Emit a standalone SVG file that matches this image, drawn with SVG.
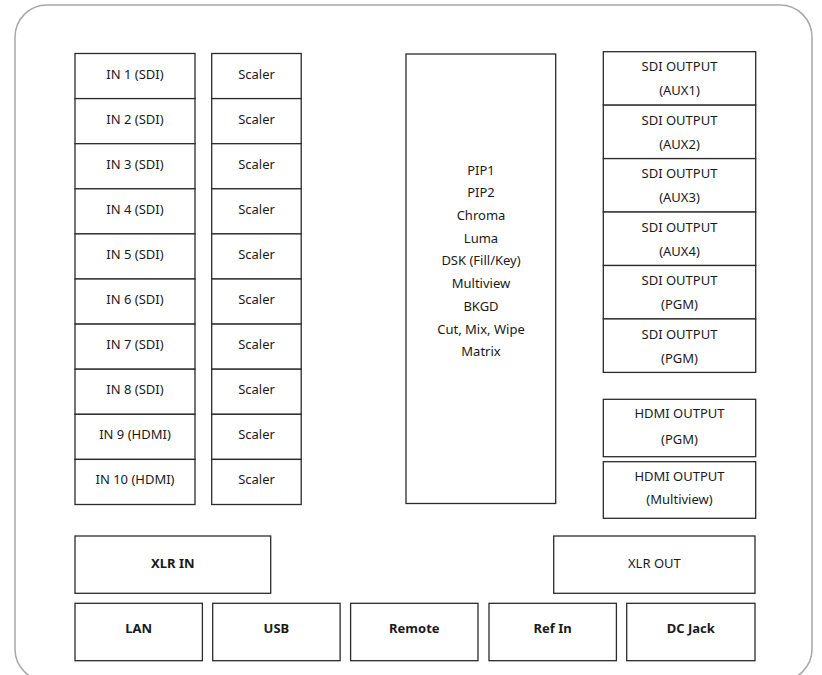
<svg xmlns="http://www.w3.org/2000/svg" width="822" height="675" viewBox="0 0 822 675">
<style>
.frame{fill:#fff;stroke:#a8a8a8;stroke-width:1.5}
.box{fill:#fff;stroke:#2b2b2b;stroke-width:1.3}
.t{font-family:"Noto Sans","Open Sans",sans-serif;font-size:13px;fill:#1a1a1a;text-anchor:middle}
.b{font-weight:bold}
</style>
<rect class="frame" x="15" y="5" width="797" height="676" rx="32" ry="32"/>
<g id="inputs">
<g id="in1"><rect class="box" x="75" y="53.5" width="120" height="45.1"/><text class="t" x="135" y="78.5">IN 1 (SDI)</text></g>
<g id="in2"><rect class="box" x="75" y="98.6" width="120" height="45.1"/><text class="t" x="135" y="123.6">IN 2  (SDI)</text></g>
<g id="in3"><rect class="box" x="75" y="143.7" width="120" height="45.1"/><text class="t" x="135" y="168.7">IN 3 (SDI)</text></g>
<g id="in4"><rect class="box" x="75" y="188.8" width="120" height="45.1"/><text class="t" x="135" y="213.8">IN 4 (SDI)</text></g>
<g id="in5"><rect class="box" x="75" y="233.9" width="120" height="45.1"/><text class="t" x="135" y="258.9">IN 5 (SDI)</text></g>
<g id="in6"><rect class="box" x="75" y="279" width="120" height="45.1"/><text class="t" x="135" y="304">IN 6 (SDI)</text></g>
<g id="in7"><rect class="box" x="75" y="324.1" width="120" height="45.1"/><text class="t" x="135" y="349.1">IN 7 (SDI)</text></g>
<g id="in8"><rect class="box" x="75" y="369.2" width="120" height="45.1"/><text class="t" x="135" y="394.2">IN 8 (SDI)</text></g>
<g id="in9"><rect class="box" x="75" y="414.3" width="120" height="45.1"/><text class="t" x="135" y="439.3">IN 9 (HDMI)</text></g>
<g id="in10"><rect class="box" x="75" y="459.4" width="120" height="45.1"/><text class="t" x="135" y="484.4">IN 10 (HDMI)</text></g>
</g>
<g id="scalers">
<g id="sc1"><rect class="box" x="211.7" y="53.5" width="89.5" height="45.1"/><text class="t" x="256.5" y="78.5">Scaler</text></g>
<g id="sc2"><rect class="box" x="211.7" y="98.6" width="89.5" height="45.1"/><text class="t" x="256.5" y="123.6">Scaler</text></g>
<g id="sc3"><rect class="box" x="211.7" y="143.7" width="89.5" height="45.1"/><text class="t" x="256.5" y="168.7">Scaler</text></g>
<g id="sc4"><rect class="box" x="211.7" y="188.8" width="89.5" height="45.1"/><text class="t" x="256.5" y="213.8">Scaler</text></g>
<g id="sc5"><rect class="box" x="211.7" y="233.9" width="89.5" height="45.1"/><text class="t" x="256.5" y="258.9">Scaler</text></g>
<g id="sc6"><rect class="box" x="211.7" y="279" width="89.5" height="45.1"/><text class="t" x="256.5" y="304">Scaler</text></g>
<g id="sc7"><rect class="box" x="211.7" y="324.1" width="89.5" height="45.1"/><text class="t" x="256.5" y="349.1">Scaler</text></g>
<g id="sc8"><rect class="box" x="211.7" y="369.2" width="89.5" height="45.1"/><text class="t" x="256.5" y="394.2">Scaler</text></g>
<g id="sc9"><rect class="box" x="211.7" y="414.3" width="89.5" height="45.1"/><text class="t" x="256.5" y="439.3">Scaler</text></g>
<g id="sc10"><rect class="box" x="211.7" y="459.4" width="89.5" height="45.1"/><text class="t" x="256.5" y="484.4">Scaler</text></g>
</g>
<g id="core">
<rect class="box" x="406" y="54" width="149.7" height="449.5"/>
<text class="t" x="481" y="174.6">PIP1</text>
<text class="t" x="481" y="197.3">PIP2</text>
<text class="t" x="481" y="220">Chroma</text>
<text class="t" x="481" y="242.7">Luma</text>
<text class="t" x="481" y="265.4">DSK (Fill/Key)</text>
<text class="t" x="481" y="288.1">Multiview</text>
<text class="t" x="481" y="310.8">BKGD</text>
<text class="t" x="481" y="333.5">Cut, Mix, Wipe</text>
<text class="t" x="481" y="356.2">Matrix</text>
</g>
<g id="outputs">
<g id="sdi1"><rect class="box" x="603.3" y="51.7" width="152.4" height="53.45"/><text class="t" x="679.5" y="71.3">SDI OUTPUT</text><text class="t" x="679.5" y="95.4">(AUX1)</text></g>
<g id="sdi2"><rect class="box" x="603.3" y="105.15" width="152.4" height="53.45"/><text class="t" x="679.5" y="124.75">SDI OUTPUT</text><text class="t" x="679.5" y="148.85">(AUX2)</text></g>
<g id="sdi3"><rect class="box" x="603.3" y="158.6" width="152.4" height="53.45"/><text class="t" x="679.5" y="178.2">SDI OUTPUT</text><text class="t" x="679.5" y="202.3">(AUX3)</text></g>
<g id="sdi4"><rect class="box" x="603.3" y="212.05" width="152.4" height="53.45"/><text class="t" x="679.5" y="231.65">SDI OUTPUT</text><text class="t" x="679.5" y="255.75">(AUX4)</text></g>
<g id="sdi5"><rect class="box" x="603.3" y="265.5" width="152.4" height="53.45"/><text class="t" x="679.5" y="285.1">SDI OUTPUT</text><text class="t" x="679.5" y="309.2">(PGM)</text></g>
<g id="sdi6"><rect class="box" x="603.3" y="318.95" width="152.4" height="53.45"/><text class="t" x="679.5" y="338.55">SDI OUTPUT</text><text class="t" x="679.5" y="362.65">(PGM)</text></g>
<g id="hdmi1"><rect class="box" x="603.3" y="399.3" width="152.4" height="57.4"/><text class="t" x="679.5" y="418">HDMI OUTPUT</text><text class="t" x="679.5" y="443.7">(PGM)</text></g>
<g id="hdmi2"><rect class="box" x="603.3" y="461.7" width="152.4" height="56.6"/><text class="t" x="679.5" y="481.3">HDMI OUTPUT</text><text class="t" x="679.5" y="504">(Multiview)</text></g>
</g>
<g id="xlrin"><rect class="box" x="75" y="536" width="195.7" height="57.3"/><text class="t b" x="172.8" y="568">XLR IN</text></g>
<g id="xlrout"><rect class="box" x="553.7" y="536" width="201.3" height="57.3"/><text class="t" x="654.4" y="568">XLR OUT</text></g>
<g id="lan"><rect class="box" x="75" y="603.3" width="127.4" height="57.4"/><text class="t b" x="138.7" y="633">LAN</text></g>
<g id="usb"><rect class="box" x="212.7" y="603.3" width="127.4" height="57.4"/><text class="t b" x="276.4" y="633">USB</text></g>
<g id="remote"><rect class="box" x="350.6" y="603.3" width="127.4" height="57.4"/><text class="t b" x="414.3" y="633">Remote</text></g>
<g id="refin"><rect class="box" x="489" y="603.3" width="127.4" height="57.4"/><text class="t b" x="552.7" y="633">Ref In</text></g>
<g id="dcjack"><rect class="box" x="626.7" y="603.3" width="128.3" height="57.4"/><text class="t b" x="690.8" y="633">DC Jack</text></g>
<g id="connectors"></g>
</svg>
